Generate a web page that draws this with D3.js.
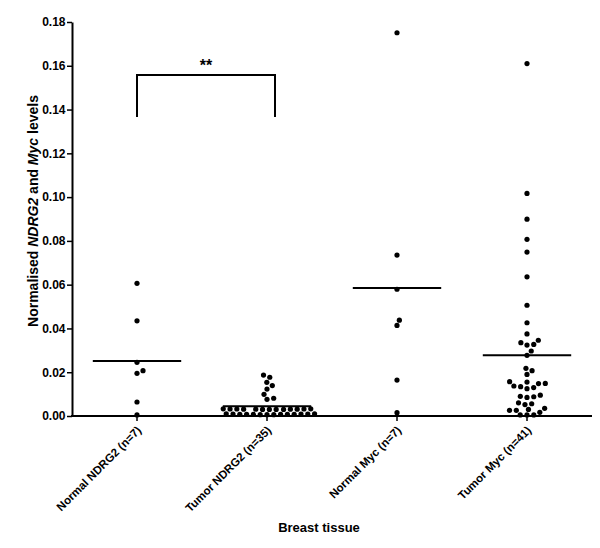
<!DOCTYPE html>
<html>
<head>
<meta charset="utf-8">
<script src="https://cdn.jsdelivr.net/npm/d3@7"></script>
<style>
  html, body { margin: 0; padding: 0; background: #fff; }
  svg { display: block; font-family: Arial, "Liberation Sans", sans-serif; }
</style>
</head>
<body>
<svg id="chart" width="600" height="548"></svg>
<script>
// ---------------- data ----------------
const categories = ["Normal NDRG2 (n=7)", "Tumor NDRG2 (n=35)", "Normal Myc (n=7)", "Tumor Myc (n=41)"];

const normalNDRG2 = [0.0606, 0.0435, 0.0245, 0.0207, 0.0195, 0.0064, 0.0005];

const tumorNDRG2 = [
  0.0187, 0.0177, 0.0154, 0.0139, 0.0123, 0.0099, 0.0081, 0.0076,
  0.0033, 0.0033, 0.0032, 0.0032, 0.0032, 0.0031, 0.0031, 0.0031, 0.0031,
  0.0030, 0.0030, 0.0030, 0.0030,
  0.0010, 0.0010, 0.0009, 0.0009, 0.0009, 0.0008, 0.0008, 0.0008, 0.0007,
  0.0007, 0.0007, 0.0006, 0.0006, 0.0006
];

const normalMyc = [0.1751, 0.0735, 0.0579, 0.0438, 0.0414, 0.0164, 0.0015];

const tumorMyc = [
  0.1610, 0.1017, 0.0899, 0.0807, 0.0749, 0.0636, 0.0506, 0.0426, 0.0375,
  0.0346, 0.0335, 0.0327, 0.0324, 0.0297, 0.0277, 0.0218, 0.0207, 0.0190,
  0.0157, 0.0155, 0.0149, 0.0148, 0.0137, 0.0134, 0.0130, 0.0125,
  0.0095, 0.0090, 0.0088, 0.0085, 0.0060, 0.0056, 0.0052,
  0.0035, 0.0030, 0.0026, 0.0026, 0.0017, 0.0005, 0.0005, 0.0005
];

const seriesValues = [normalNDRG2, tumorNDRG2, normalMyc, tumorMyc];

const yTicks = [0, 0.02, 0.04, 0.06, 0.08, 0.10, 0.12, 0.14, 0.16, 0.18];
const yDomain = [0, 0.18];

const sigPair = ["Normal NDRG2 (n=7)", "Tumor NDRG2 (n=35)"];
const sigLevels = [0.1558, 0.1366]; // top of bracket, bottom of legs
const sigLabel = "**";

const xTitle = "Breast tissue";

// ---------------- layout ----------------
const svg = d3.select("#chart");
const mLeft = 72, mRight = 592, mTop = 22, mBottom = 416;

const x = d3.scaleBand().domain(categories).range([mLeft, mRight]);
const y = d3.scaleLinear().domain(yDomain).range([mBottom, mTop]);

// ---------------- beeswarm (elliptical collision) ----------------
function swarm(values, Dx, Dy) {
  const pts = values.map(v => ({ v, py: y(v) })).sort((a, b) => a.v - b.v);
  const placed = [];
  const collides = (c, p) => placed.some(q => {
    const a = (q.dx - c) / Dx, b = (q.py - p.py) / Dy;
    return a * a + b * b < 1 - 1e-6;
  });
  for (const p of pts) {
    const cands = [0];
    for (const q of placed) {
      const dy = Math.abs(q.py - p.py);
      if (dy < Dy) {
        const dx = Dx * Math.sqrt(1 - (dy / Dy) * (dy / Dy));
        cands.push(q.dx + dx, q.dx - dx);
      }
    }
    const ok = cands.filter(c => !collides(c, p));
    ok.sort((a, b) => (Math.abs(a) - Math.abs(b)) || (b - a));
    p.dx = ok[0];
    placed.push(p);
  }
  return placed;
}

// ---------------- axes ----------------
const yAxis = d3.axisLeft(y)
  .tickValues(yTicks)
  .tickFormat(d3.format(".2f"))
  .tickSize(5)
  .tickSizeOuter(0)
  .tickPadding(1.5);

const gy = svg.append("g")
  .attr("transform", `translate(${mLeft},0)`)
  .call(yAxis);
gy.select(".domain").attr("stroke", "#000").attr("stroke-width", 2);
gy.selectAll(".tick line").attr("stroke", "#000").attr("stroke-width", 1.5);
gy.selectAll(".tick text")
  .attr("fill", "#000")
  .style("font-size", "12px")
  .style("font-weight", "bold")
  .style("font-family", "Arial, 'Liberation Sans', sans-serif");

const xAxis = d3.axisBottom(x).tickSize(5).tickSizeOuter(0);
const gx = svg.append("g")
  .attr("transform", `translate(0,${mBottom})`)
  .call(xAxis);
gx.select(".domain").attr("stroke", "#000").attr("stroke-width", 2)
  .attr("d", `M${mLeft - 1},0H${mRight}`);
gx.selectAll(".tick line").attr("stroke", "#000").attr("stroke-width", 1.5);
gx.selectAll(".tick text")
  .attr("fill", "#000")
  .attr("x", 0).attr("y", 0).attr("dy", null)
  .attr("text-anchor", "end")
  .attr("transform", "translate(5,15) rotate(-45)")
  .style("font-size", "11.5px")
  .style("font-weight", "bold")
  .style("font-family", "Arial, 'Liberation Sans', sans-serif");

// axis titles
const yt = svg.append("text")
  .attr("transform", "translate(38,211) rotate(-90)")
  .attr("text-anchor", "middle")
  .style("font-size", "14px")
  .style("font-weight", "bold")
  .attr("fill", "#000");
yt.append("tspan").text("Normalised ");
yt.append("tspan").style("font-style", "italic").text("NDRG2");
yt.append("tspan").text(" and ");
yt.append("tspan").style("font-style", "italic").text("Myc");
yt.append("tspan").text(" levels");

svg.append("text")
  .attr("x", 319).attr("y", 532)
  .attr("text-anchor", "middle")
  .style("font-size", "13px")
  .style("font-weight", "bold")
  .attr("fill", "#000")
  .text(xTitle);

// ---------------- points & means ----------------
const meanHalf = x.bandwidth() * 0.34;
categories.forEach((cat, i) => {
  const cx = x(cat) + x.bandwidth() / 2;
  const pts = swarm(seriesValues[i], 6.8, 5.6);
  svg.append("g").selectAll("circle")
    .data(pts)
    .join("circle")
    .attr("cx", d => cx + d.dx)
    .attr("cy", d => d.py)
    .attr("r", 2.6)
    .attr("fill", "#000");
  const m = d3.mean(seriesValues[i]);
  svg.append("line")
    .attr("x1", cx - meanHalf).attr("x2", cx + meanHalf)
    .attr("y1", y(m)).attr("y2", y(m))
    .attr("stroke", "#000").attr("stroke-width", 2);
});

// ---------------- significance bracket ----------------
const bx1 = x(sigPair[0]) + x.bandwidth() / 2;
const bx2 = x(sigPair[1]) + x.bandwidth() / 2 + 8;
svg.append("path")
  .attr("d", `M${bx1},${y(sigLevels[1])}V${y(sigLevels[0])}H${bx2}V${y(sigLevels[1])}`)
  .attr("fill", "none").attr("stroke", "#000").attr("stroke-width", 2);
svg.append("text")
  .attr("x", (bx1 + bx2) / 2).attr("y", y(sigLevels[0]) - 4)
  .attr("text-anchor", "middle")
  .style("font-size", "16px")
  .style("font-weight", "bold")
  .attr("fill", "#000")
  .text(sigLabel);
</script>
</body>
</html>
